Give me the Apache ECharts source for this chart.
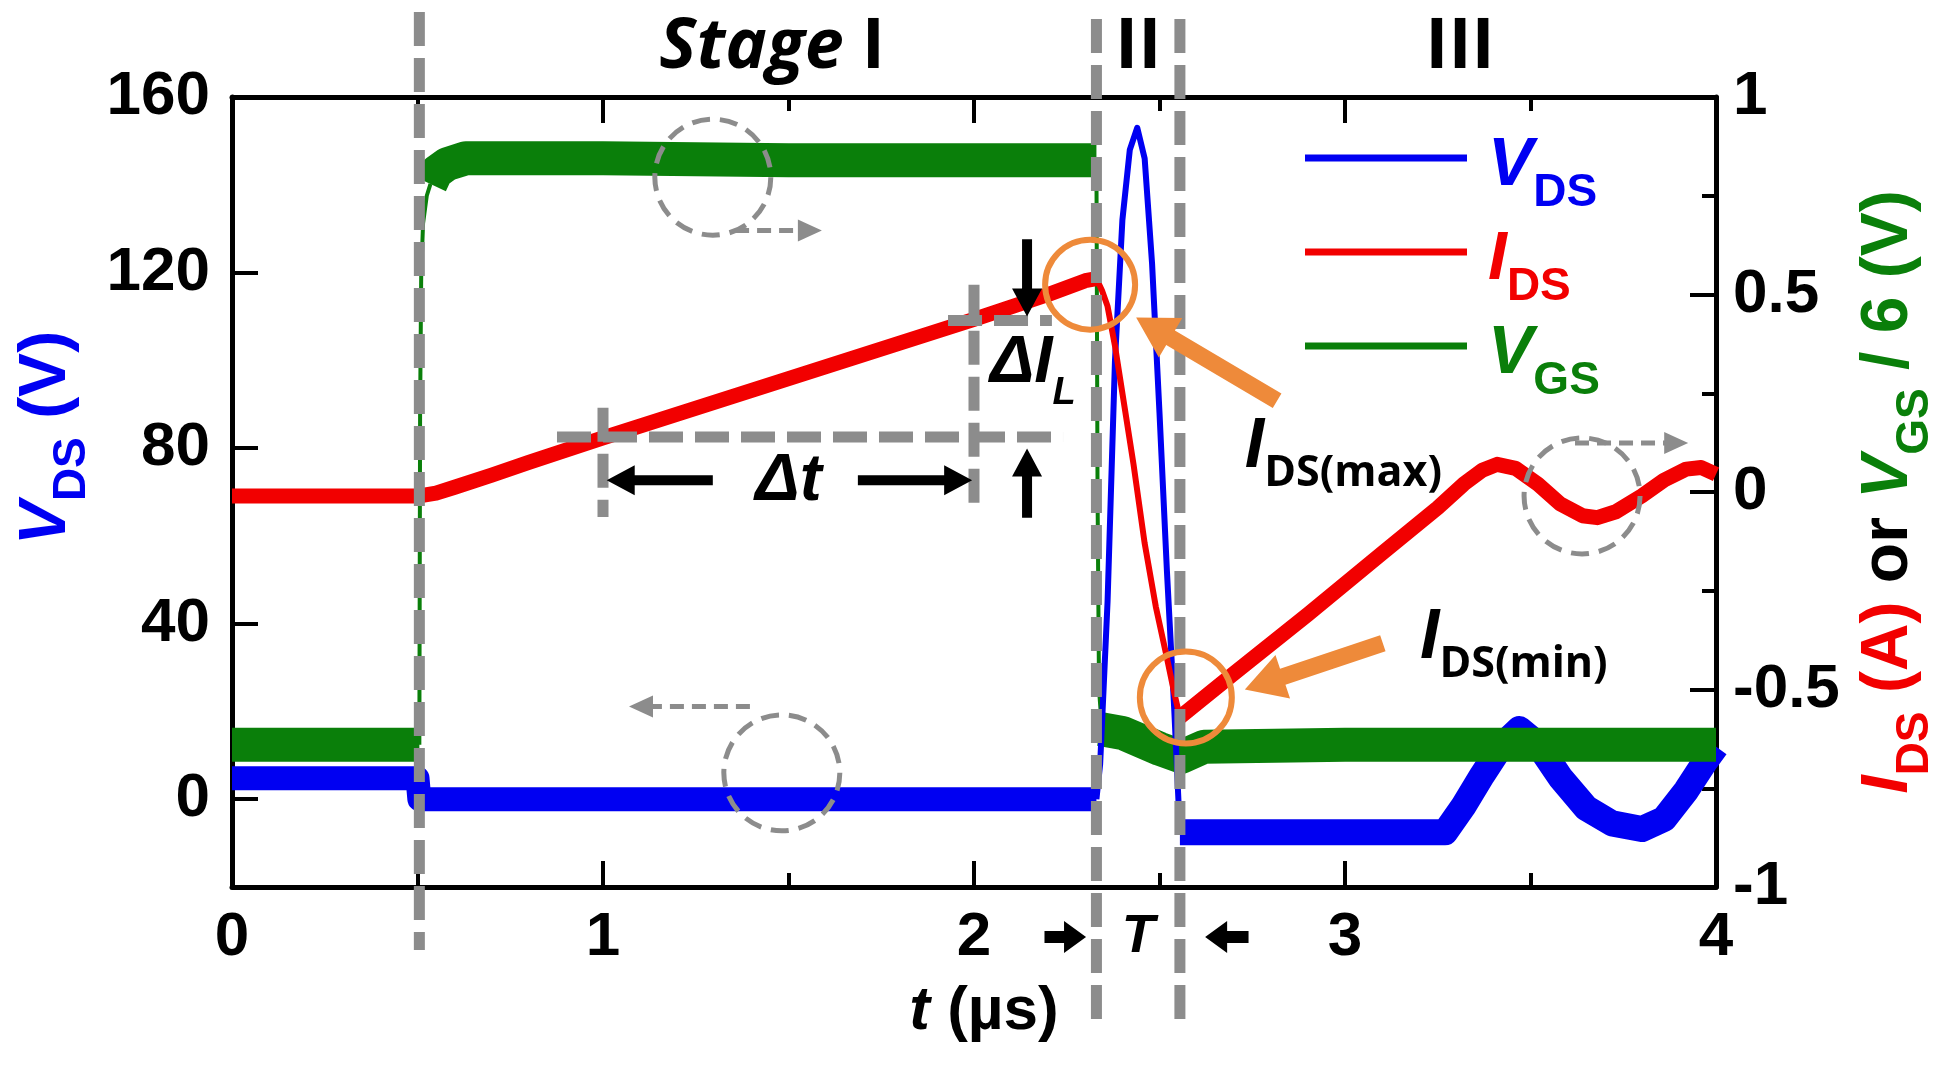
<!DOCTYPE html>
<html><head><meta charset="utf-8">
<script src="https://cdn.jsdelivr.net/npm/echarts@6/dist/echarts.min.js"></script>
<style>html,body{margin:0;padding:0;background:#fff}#c{width:1953px;height:1070px}</style>
</head><body><div id="c"></div>
<script>
// ---------------- data (t in µs) ----------------
const xTicks = [0, 1, 2, 3, 4];
const yLeftTicks = [0, 40, 80, 120, 160];
const yRightTicks = [-1, -0.5, 0, 0.5, 1];
const stageBounds = [0.505, 2.33, 2.555];

// V_DS (V), left axis
const vdsStage1 = [[0,4.8],[0.25,4.8],[0.5,4.8],[0.505,0],[1,0],[1.5,0],[2,0],[2.33,0]];
const vdsSpike  = [[2.33,0],[2.34,8],[2.36,45],[2.38,100],[2.40,132],[2.42,148],[2.44,153],[2.46,146],[2.48,122],[2.50,88],[2.52,52],[2.54,20],[2.555,-7.5]];
const vdsStage3 = [[2.555,-7.5],[2.6,-7.5],[3.0,-7.5],[3.27,-7.5],[3.32,-1.5],[3.37,5.5],[3.42,12],[3.47,16],[3.52,12.5],[3.58,5],[3.65,-2],[3.72,-5.5],[3.8,-6.8],[3.86,-4.5],[3.92,2],[3.97,8.5],[4.0,12]];

// I_DS (A), right axis
const idsStage1 = [[0,-0.01],[0.25,-0.01],[0.505,-0.01],[0.55,-0.003],[0.6,0.012],[0.7,0.043],[0.8,0.075],[0.9,0.106],[1.0,0.137],[1.5,0.287],[2.0,0.437],[2.2,0.5],[2.3,0.535],[2.33,0.54]];
const idsDrop   = [[2.33,0.54],[2.345,0.51],[2.36,0.47],[2.38,0.37],[2.40,0.25],[2.43,0.07],[2.46,-0.13],[2.49,-0.29],[2.52,-0.42],[2.54,-0.51],[2.555,-0.57]];
const idsStage3 = [[2.555,-0.57],[2.7,-0.46],[2.9,-0.31],[3.1,-0.155],[3.25,-0.04],[3.32,0.02],[3.37,0.055],[3.41,0.07],[3.46,0.06],[3.52,0.02],[3.58,-0.03],[3.64,-0.06],[3.68,-0.065],[3.73,-0.05],[3.8,-0.01],[3.86,0.03],[3.92,0.058],[3.96,0.062],[4.0,0.045]];

// V_GS / 6 (V), right axis
const vgsLow1 = [[0,-0.64],[0.25,-0.64],[0.505,-0.64]];
const vgsRise = [[0.505,-0.64],[0.507,0.2],[0.51,0.55],[0.515,0.68],[0.525,0.75],[0.535,0.78]];
const vgsHigh = [[0.535,0.78],[0.55,0.81],[0.58,0.83],[0.63,0.845],[1.0,0.845],[1.5,0.84],[2.0,0.84],[2.33,0.84]];
const vgsFall = [[2.33,0.84],[2.333,0],[2.337,-0.5],[2.345,-0.6]];
const vgsLow2 = [[2.34,-0.6],[2.4,-0.61],[2.5,-0.65],[2.56,-0.67],[2.62,-0.645],[3,-0.64],[3.5,-0.64],[4,-0.64]];

// ---------------- styling ----------------
const F = '"Liberation Sans", Arial, sans-serif';
const FO = '"Open Sans", "Liberation Sans", sans-serif';
const BLUE = '#0000f2', RED = '#f20000', GREEN = '#0a7f0a', GRAY = '#8c8c8c', ORANGE = '#ee8a3a';

const main = (size, color, o) => Object.assign({fontFamily:F, fontWeight:'bold', fontSize:size, lineHeight:size, verticalAlign:'top', color:color, fill:color}, o || {});
const sub = (size, color, drop, o) => Object.assign({fontFamily:F, fontWeight:'bold', fontSize:size, lineHeight:size, verticalAlign:'top', padding:[drop,0,0,0], color:color, fill:color}, o || {});

function lineSeries(name, data, color, width, yIdx, z) {
  return {type:'line', name, data, yAxisIndex:yIdx, xAxisIndex:0, color, showSymbol:false, symbol:'none',
    lineStyle:{color, width, join:'round', cap:'butt'}, z, silent:true, animation:false, clip:true};
}

const axisLineStyle = {color:'#000', width:5};
const tickStyle = {color:'#000', width:4};

const chart = echarts.init(document.getElementById('c'));
const option = {
  animation:false,
  backgroundColor:'#fff',
  grid:{left:232, right:237, top:97, bottom:183, containLabel:false},
  legend:{
    orient:'vertical', left:1305, top:124, padding:0, itemGap:2, itemWidth:162, itemHeight:7, icon:'rect',
    selectedMode:false, data:['VDS','IDS','VGS'],
    formatter: n => ({VDS:'{vb|V}{sb|DS}', IDS:'{ir|I}{sr|DS}', VGS:'{vg|V}{sg|GS}'})[n],
    textStyle:{rich:{
      vb: main(68, BLUE, {fontStyle:'italic', padding:[8,0,0,16]}), sb: sub(46, BLUE, 46),
      ir: main(68, RED, {fontStyle:'italic', padding:[8,0,0,16]}), sr: sub(46, RED, 46),
      vg: main(68, GREEN, {fontStyle:'italic', padding:[8,0,0,16]}), sg: sub(46, GREEN, 46)
    }}
  },
  xAxis:[{
    type:'value', min:0, max:4, interval:1, position:'bottom',
    axisLine:{onZero:false, lineStyle:axisLineStyle},
    axisTick:{inside:true, length:26, lineStyle:tickStyle},
    minorTick:{show:true, splitNumber:2, length:14, lineStyle:tickStyle},
    splitLine:{show:false}, minorSplitLine:{show:false},
    axisLabel:{fontFamily:F, fontWeight:'bold', fontSize:62, color:'#000', margin:20, customValues:xTicks},
    name:'{it|t}{n| (µs)}', nameLocation:'middle', nameGap:94,
    nameTextStyle:{padding:[0,0,0,20], rich:{it:main(62,'#000',{fontStyle:'italic'}), n:main(62,'#000')}}
  },{
    type:'value', min:0, max:4, interval:1, position:'top',
    axisLine:{onZero:false, lineStyle:axisLineStyle},
    axisTick:{inside:true, length:26, lineStyle:tickStyle},
    minorTick:{show:true, splitNumber:2, length:14, lineStyle:tickStyle},
    splitLine:{show:false}, axisLabel:{show:false}
  }],
  yAxis:[{
    type:'value', min:-20, max:160, position:'left',
    axisLine:{show:true, onZero:false, lineStyle:axisLineStyle},
    axisTick:{show:true, inside:true, length:26, lineStyle:tickStyle, customValues:yLeftTicks},
    splitLine:{show:false},
    axisLabel:{fontFamily:F, fontWeight:'bold', fontSize:62, color:'#000', margin:22, customValues:yLeftTicks},
    name:'{v|V}{s|DS}{n| (V)}', nameLocation:'middle', nameGap:136,
    nameTextStyle:{padding:[0,0,0,108], rich:{v:main(66,BLUE,{fontStyle:'italic'}), s:sub(46,BLUE,36), n:main(66,BLUE)}}
  },{
    type:'value', min:-1, max:1, interval:0.5, position:'right',
    axisLine:{show:true, onZero:false, lineStyle:axisLineStyle},
    axisTick:{show:true, inside:true, length:26, lineStyle:tickStyle},
    minorTick:{show:true, splitNumber:2, length:14, lineStyle:tickStyle},
    splitLine:{show:false}, minorSplitLine:{show:false},
    axisLabel:{fontFamily:F, fontWeight:'bold', fontSize:62, color:'#000', margin:17, customValues:yRightTicks},
    name:'{i|I}{sr|DS}{r| (A)}{k| or }{v|V}{sg|GS}{g| / 6 (V)}', nameLocation:'middle', nameGap:140,
    nameTextStyle:{rich:{
      i:main(66,RED,{fontStyle:'italic'}), sr:sub(46,RED,36), r:main(66,RED),
      k:main(66,'#000'),
      v:main(66,GREEN,{fontStyle:'italic'}), sg:sub(46,GREEN,36), g:main(66,GREEN)
    }}
  }],
  series:[
    lineSeries('VDS', vdsStage1, BLUE, 24, 0, 1),
    lineSeries('VDS', vdsStage3, BLUE, 26, 0, 1),
    lineSeries('VGS', vgsLow1, GREEN, 34, 1, 3),
    lineSeries('VGS', vgsHigh, GREEN, 34, 1, 3),
    lineSeries('VGS', vgsLow2, GREEN, 34, 1, 3),
    lineSeries('VGS', vgsRise, GREEN, 4, 1, 3),
    lineSeries('VGS', vgsFall, GREEN, 4, 1, 3),
    lineSeries('VDS', vdsSpike, BLUE, 6, 0, 4),
    lineSeries('IDS', idsStage1, RED, 15, 1, 5),
    lineSeries('IDS', idsDrop, RED, 6, 1, 5),
    lineSeries('IDS', idsStage3, RED, 15, 1, 5)
  ]
};
chart.setOption(option);

// ---------------- annotations (placed through the axes' scales) ----------------
function arrowPts(x1, y1, x2, y2, w, hl, hw) {
  const dx = x2 - x1, dy = y2 - y1, L = Math.hypot(dx, dy), ux = dx / L, uy = dy / L, nx = -uy, ny = ux;
  const bx = x2 - ux * hl, by = y2 - uy * hl;
  return [[x1 + nx*w/2, y1 + ny*w/2], [bx + nx*w/2, by + ny*w/2], [bx + nx*hw/2, by + ny*hw/2], [x2, y2],
          [bx - nx*hw/2, by - ny*hw/2], [bx - nx*w/2, by - ny*w/2], [x1 - nx*w/2, y1 - ny*w/2]];
}
function build() {
  const X = t => chart.convertToPixel({xAxisIndex:0}, t);
  const YR = v => chart.convertToPixel({yAxisIndex:1}, v);
  const gTop = YR(1), gBot = YR(-1);
  const g = [];
  const dashLine = (x1, y1, x2, y2, z) => g.push({type:'line', silent:true, z:z || 50,
    shape:{x1, y1, x2, y2}, style:{stroke:GRAY, lineWidth:11, lineDash:[34,12], fill:null}});
  const arrow = (x1, y1, x2, y2, w, hl, hw, color, z) => g.push({type:'polygon', silent:true, z:z || 55,
    shape:{points:arrowPts(x1, y1, x2, y2, w, hl, hw)}, style:{fill:color, stroke:null}});
  const text = (x, y, str, rich, align, va, z) => g.push({type:'text', silent:true, z:z || 60, x, y,
    style:{text:str, rich, align, verticalAlign:va, textAlign:align, textVerticalAlign:va}});

  // stage boundaries
  stageBounds.forEach((t, i) => dashLine(X(t), i === 0 ? gTop - 85 : gTop - 78, X(t), i === 0 ? gBot + 63 : gBot + 137));

  // Δt / ΔI_L construction
  dashLine(X(0.876), YR(0.139), X(2.24), YR(0.139));
  dashLine(X(1.0), YR(0.213), X(1.0), YR(-0.063));
  dashLine(X(2.0), YR(0.525), X(2.0), YR(-0.04));
  dashLine(X(1.93), YR(0.434), X(2.21), YR(0.434));
  arrow(X(1.296), YR(0.03), X(1.01), YR(0.03), 10, 28, 30, '#000');
  arrow(X(1.687), YR(0.03), X(1.995), YR(0.03), 10, 28, 30, '#000');
  arrow(X(2.143), YR(0.64), X(2.143), YR(0.444), 10, 28, 30, '#000');
  arrow(X(2.143), YR(-0.065), X(2.143), YR(0.11), 10, 28, 30, '#000');
  text(X(1.5), YR(0.025), '{a|Δt}', {a:main(66,'#000',{fontStyle:'italic', verticalAlign:'middle'})}, 'center', 'middle');
  text(X(2.043), YR(0.302) - 42, '{a|ΔI}{s|L}', {a:main(66,'#000',{fontStyle:'italic'}), s:sub(38,'#000',44,{fontStyle:'italic'})}, 'left', 'top');

  // orange highlights
  [[2.313, 0.525, 45], [2.571, -0.52, 46]].forEach(c => g.push({type:'circle', silent:true, z:65,
    shape:{cx:X(c[0]), cy:YR(c[1]), r:c[2]}, style:{fill:'rgba(0,0,0,0)', stroke:ORANGE, lineWidth:6}}));
  arrow(X(2.817), YR(0.231), X(2.437), YR(0.442), 17, 40, 46, ORANGE, 66);
  arrow(X(3.102), YR(-0.383), X(2.730), YR(-0.5), 17, 40, 46, ORANGE, 66);
  const annRich = {i:main(70,'#000',{fontStyle:'italic'}), s:sub(43,'#000',40,{fontFamily:FO})};
  text(X(2.73), YR(0.107) - 37, '{i|I}{s|DS(max)}', annRich, 'left', 'top');
  text(X(3.202), YR(-0.376) - 37, '{i|I}{s|DS(min)}', annRich, 'left', 'top');

  // gray dashed circles showing which axis a trace belongs to
  const gCircle = (t, v, r) => g.push({type:'circle', silent:true, z:52, shape:{cx:X(t), cy:YR(v), r},
    style:{fill:'rgba(0,0,0,0)', stroke:GRAY, lineWidth:5, lineDash:[18,10]}});
  const gArrow = (t1, t2, v) => {
    const x1 = X(t1), x2 = X(t2), y = YR(v), d = x2 > x1 ? 1 : -1;
    g.push({type:'line', silent:true, z:52, shape:{x1, y1:y, x2:x2 - d*22, y2:y}, style:{stroke:GRAY, lineWidth:5, lineDash:[14,8]}});
    g.push({type:'polygon', silent:true, z:52, shape:{points:[[x2, y], [x2 - d*24, y - 11], [x2 - d*24, y + 11]]}, style:{fill:GRAY}});
  };
  gCircle(1.296, 0.797, 58); gArrow(1.356, 1.59, 0.662);
  gCircle(1.482, -0.711, 58); gArrow(1.396, 1.07, -0.543);
  gCircle(3.639, -0.01, 58); gArrow(3.62, 3.925, 0.124);

  // stage labels
  const stRich = {s:{fontFamily:FO, fontWeight:'bold', fontStyle:'italic', fontSize:70, lineHeight:84, fill:'#000', color:'#000'},
                  n:{fontFamily:FO, fontWeight:'bold', fontSize:70, lineHeight:84, fill:'#000', color:'#000'}};
  text(X(1.456), gTop - 49, '{s|Stage}{n| I}', stRich, 'center', 'middle');
  text(X((stageBounds[1] + stageBounds[2]) / 2), gTop - 49, '{n|II}', stRich, 'center', 'middle');
  text(X(3.31), gTop - 49, '{n|III}', stRich, 'center', 'middle');

  // T interval marker under the axis
  text(X((stageBounds[1] + stageBounds[2]) / 2), gBot + 50, '{t|T}', {t:main(54,'#000',{fontStyle:'italic', verticalAlign:'middle'})}, 'center', 'middle');
  arrow(X(2.19), gBot + 50, X(2.302), gBot + 50, 12, 22, 32, '#000');
  arrow(X(2.74), gBot + 50, X(2.623), gBot + 50, 12, 22, 32, '#000');

  chart.setOption({graphic:g});
}
build();
</script></body></html>
